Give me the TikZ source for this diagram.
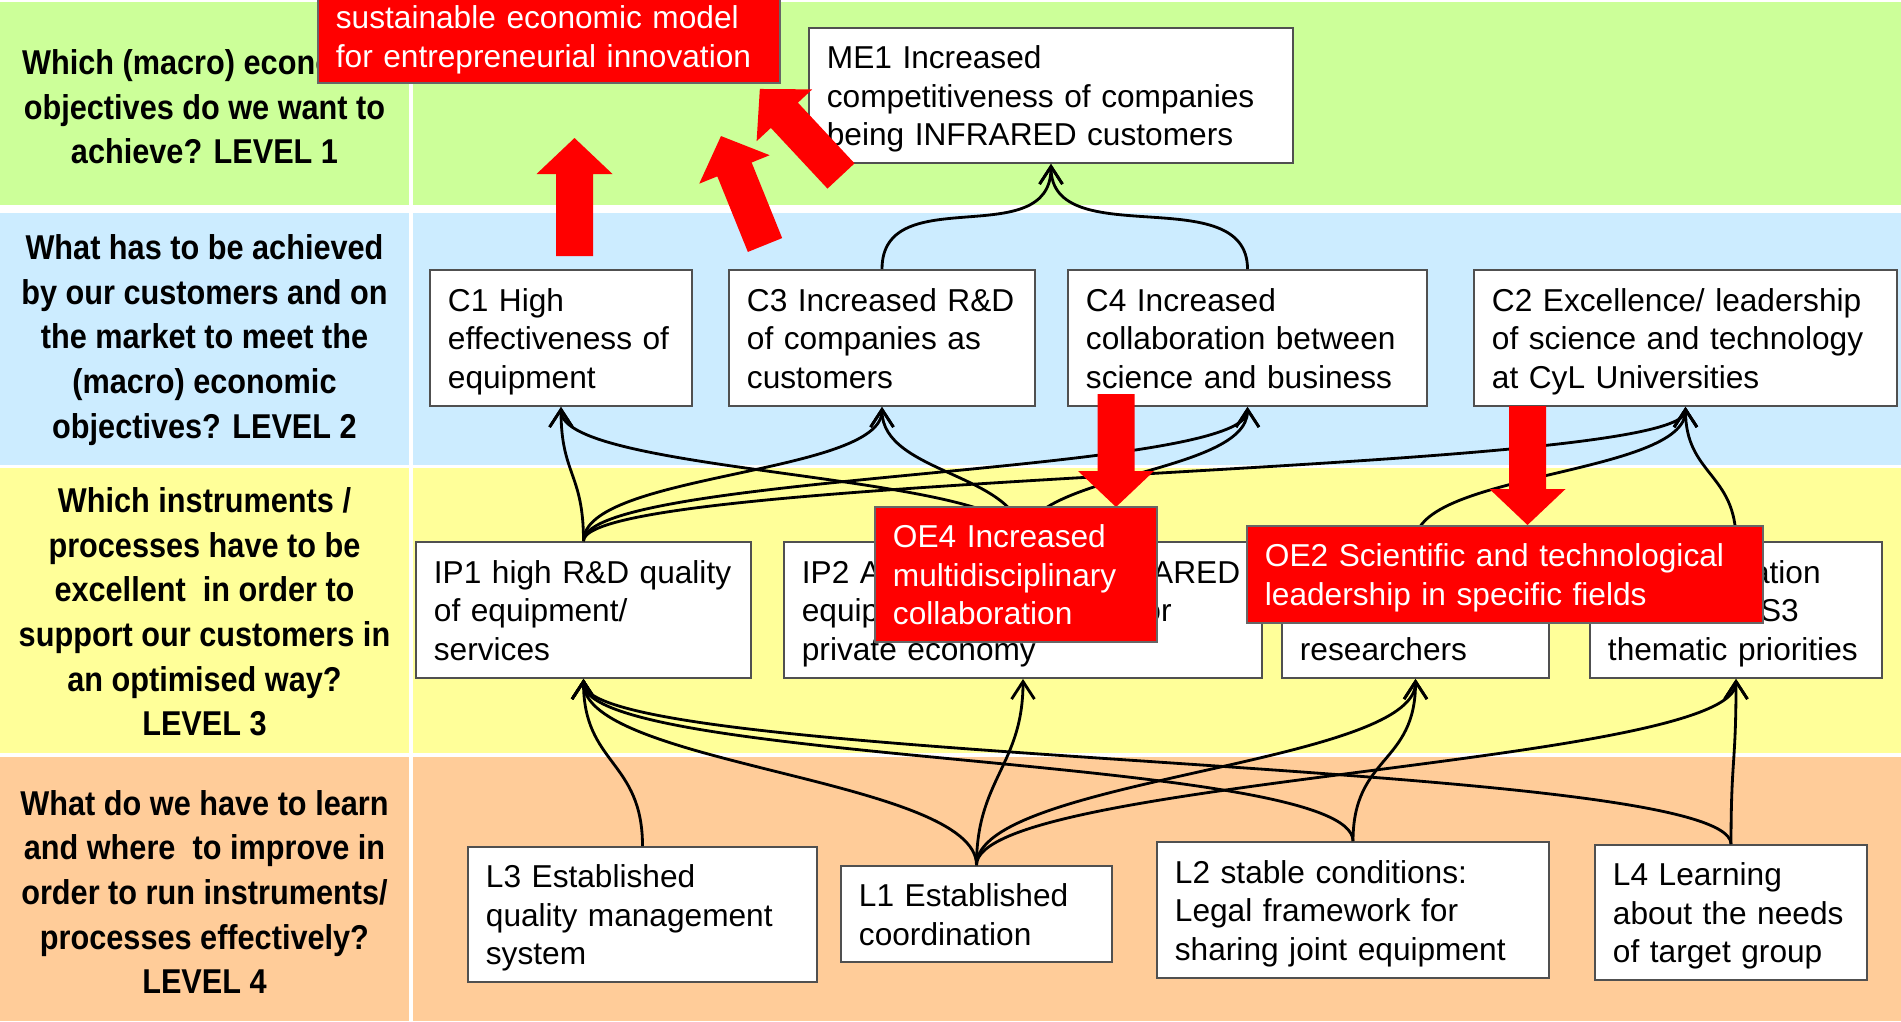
\documentclass[tikz,border=0pt]{standalone}
\usepackage{fontspec}
\setmainfont{Liberation Sans}
\newfontfamily\levelfont[FakeStretch=0.89]{Liberation Sans}
\usetikzlibrary{arrows.meta}

\definecolor{lvlgreen}{RGB}{204,255,153}
\definecolor{lvlblue}{RGB}{204,236,255}
\definecolor{lvlyellow}{RGB}{255,255,153}
\definecolor{lvlorange}{RGB}{255,204,153}
\definecolor{boxline}{RGB}{80,80,80}

% red block arrow: base point, angle, length
\newcommand\redarrow[3]{%
  \fill[red, shift={#1}, rotate=#2] (0,-18.5) -- (#3-36,-18.5) -- (#3-36,-38)
    -- (#3,0) -- (#3-36,38) -- (#3-36,18.5) -- (0,18.5) -- cycle;}

\begin{document}
\begin{tikzpicture}[x=0.01cm, y=-0.01cm,
  stage/.style = {shape=rectangle, draw=boxline, fill=white, line width=0.5pt,
    align=left, inner xsep=0.18cm, inner ysep=0pt,
    font=\fontsize{9}{11}\selectfont,
    execute at begin node={\rule{0pt}{10pt}},
    execute at end node={\rule[-3.3pt]{0pt}{3.3pt}}},
  goal/.style = {stage, fill=red, draw=black!60, text=white},
  level/.style = {align=center,
    font=\levelfont\bfseries\fontsize{9.8}{12.7}\selectfont},
  link/.style = {-{Straight Barb[length=5pt,width=6.5pt]}, line width=0.8pt},
 ]
 \useasboundingbox (0,0) rectangle (1901,1021);
 \clip (0,0) rectangle (1901,1021);

 % bands
 \fill[white] (0,0) rectangle (1901,1021);
 \fill[lvlgreen] (0,2) rectangle (1901,205);
 \fill[lvlblue] (0,213) rectangle (1901,465);
 \fill[lvlyellow] (0,468) rectangle (1901,753);
 \fill[lvlorange] (0,757) rectangle (1901,1021);
 \fill[white] (409,0) rectangle (413,1021);

 % questions
 \node[level] (q1) at (204.5,107) {Which (macro) economic\\objectives do we want to\\achieve? LEVEL 1};
 \node[level] (q2) at (204.5,340) {What has to be achieved\\by our customers and on\\the market to meet the\\(macro) economic\\objectives? LEVEL 2};
 \node[level] (q3) at (204.5,612) {Which instruments /\\processes have to be\\excellent~ in order to\\support our customers in\\an optimised way?\\LEVEL 3};
 \node[level] (q4) at (204.5,892) {What do we have to learn\\and where~ to improve in\\order to run instruments/\\processes effectively?\\LEVEL 4};

 % level 1 and 2
 \node[stage, text width=4.48cm, minimum height=1.35cm] (ME1) at (1051,95.5) {ME1 Increased\\competitiveness of companies\\being INFRARED customers};
 \node[stage, text width=2.26cm, minimum height=1.36cm] (C1) at (561,338) {C1 High\\effectiveness of\\equipment};
 \node[stage, text width=2.70cm, minimum height=1.36cm] (C3) at (882,338) {C3 Increased R\&D\\of companies as\\customers};
 \node[stage, text width=3.23cm, minimum height=1.36cm] (C4) at (1247.5,338) {C4 Increased\\collaboration between\\science and business};
 \node[stage, text width=3.87cm, minimum height=1.36cm] (C2) at (1685.5,338) {C2 Excellence/ leadership\\of science and technology\\at CyL Universities};

 % level 3 (partly under the red objectives)
 \node[stage, text width=2.99cm, minimum height=1.36cm] (IP1) at (583.5,610) {IP1 high R\&D quality\\of equipment/\\services};
 \node[stage, text width=4.42cm, minimum height=1.36cm] (IP2) at (1023,610) {\mbox{IP2 A\hspace{2.71cm}ARED}\\\mbox{equip\hspace{2.64cm}or}\\private economy};
 \node[stage, text width=2.31cm, minimum height=1.36cm] (IP3) at (1415.5,610) {\mbox{}\\\mbox{}\\researchers};
 \node[stage, text width=2.56cm, minimum height=1.36cm] (IP4) at (1736,610) {\hspace*{1.44cm}ation\\\hspace*{1.52cm}S3\\thematic priorities};

 % level 4
 \node[stage, text width=3.13cm, minimum height=1.35cm] (L3) at (642.5,914.5) {L3 Established\\quality management\\system};
 \node[stage, text width=2.35cm, minimum height=0.96cm] (L1) at (976.5,914) {L1 Established\\coordination};
 \node[stage, text width=3.56cm, minimum height=1.36cm] (L2) at (1353,910) {L2 stable conditions:\\Legal framework for\\sharing joint equipment};
 \node[stage, text width=2.36cm, minimum height=1.35cm] (L4) at (1731,912.5) {L4 Learning\\about the needs\\of target group};

 % links
 \foreach \a in {C3,C4}
   \draw[link] (\a.north) .. controls +(0,-90) and +(0,90) .. (ME1.south);
 \foreach \a/\b in {IP1/C1,IP1/C3,IP1/C4,IP1/C2,IP2/C1,IP2/C3,IP2/C4,IP3/C2,IP4/C2}
   \draw[link] (\a.north) .. controls +(0,-68) and +(0,68) .. (\b.south);
 \foreach \a/\b in {L3/IP1,L1/IP1,L1/IP2,L1/IP3,L1/IP4,L2/IP1,L2/IP3,L4/IP1,L4/IP4}
   \draw[link] (\a.north) .. controls +(0,-86) and +(0,86) .. (\b.south);

 % objectives in red
 \redarrow{(574.5,256)}{90}{118}
 \redarrow{(765,245)}{112}{117.5}
 \redarrow{(841,176)}{133}{119}
 \redarrow{(1116,394)}{-90}{113}
 \redarrow{(1527.5,406)}{-90}{119}
 \node[goal, text width=4.26cm, minimum height=0.93cm] (SE) at (549,36.5) {sustainable economic model\\for entrepreneurial innovation};
 \node[goal, text width=2.46cm, minimum height=1.35cm] (OE4) at (1016,574.5) {OE4 Increased\\multidisciplinary\\collaboration};
 \node[goal, text width=4.80cm, minimum height=0.97cm] (OE2) at (1505,574.5) {OE2 Scientific and technological\\leadership in specific fields};
\end{tikzpicture}
\end{document}
